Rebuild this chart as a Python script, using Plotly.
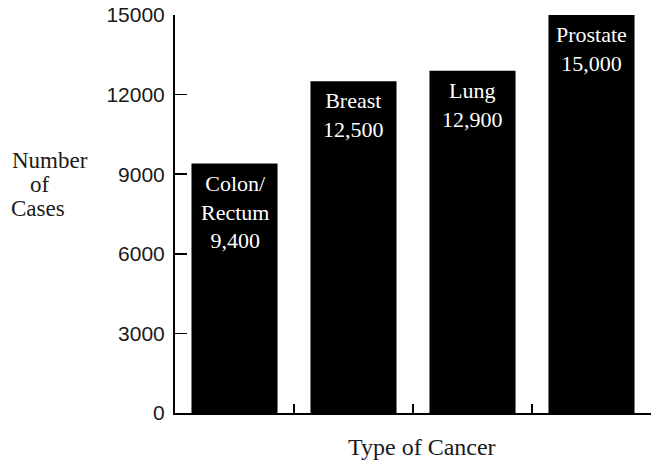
import plotly.graph_objects as go

categories = ["Colon/<br>Rectum", "Breast", "Lung", "Prostate"]
cases = [9400, 12500, 12900, 15000]
value_labels = ["9,400", "12,500", "12,900", "15,000"]
y_ticks = [0, 3000, 6000, 9000, 12000, 15000]
y_title_lines = ["Number", "of", "Cases"]
x_title = "Type of Cancer"

x_idx = list(range(len(categories)))
SERIF = "Liberation Serif, Times New Roman, serif"

fig_w, fig_h = 654, 464
L, R, T, B = 175, 3, 15, 51
pw, ph = fig_w - L - R, fig_h - T - B


def px_to_paper(px, py):
    return (px - L) / pw, (fig_h - B - py) / ph


fig = go.Figure()
fig.add_trace(go.Bar(
    x=x_idx, y=cases,
    marker=dict(color="black", line=dict(width=0)),
    hoverinfo="skip",
))

for i, (c, v, lab) in enumerate(zip(categories, cases, value_labels)):
    fig.add_annotation(
        x=i, y=v, xref="x", yref="y",
        text=c + "<br>" + lab,
        showarrow=False, yanchor="top", yshift=-5,
        font=dict(family=SERIF, size=22, color="white"),
        align="center",
    )

title_pos = [(50, 160), (40, 184), (38, 208)]
for line, (cx, cy) in zip(y_title_lines, title_pos):
    xp, yp = px_to_paper(cx, cy)
    fig.add_annotation(
        xref="paper", yref="paper", x=xp, y=yp,
        text=line, showarrow=False,
        xanchor="center", yanchor="middle",
        font=dict(family=SERIF, size=23, color="#1a1a1a"),
    )

xp, yp = px_to_paper(422, 447)
fig.add_annotation(
    xref="paper", yref="paper", x=xp, y=yp,
    text=x_title, showarrow=False,
    xanchor="center", yanchor="middle",
    font=dict(family=SERIF, size=24, color="#1a1a1a"),
)

fig.update_layout(
    width=fig_w, height=fig_h,
    margin=dict(l=L, r=R, t=T, b=B),
    plot_bgcolor="white", paper_bgcolor="white",
    bargap=0.277,
    showlegend=False,
    xaxis=dict(
        range=[-0.5, 3.5],
        tickmode="array",
        tickvals=[-0.5, 0.5, 1.5, 2.5, 3.5],
        showticklabels=False,
        ticks="inside", ticklen=9, tickwidth=1.5, tickcolor="black",
        showline=True, linecolor="black", linewidth=2,
        showgrid=False, zeroline=False,
    ),
    yaxis=dict(
        range=[0, 15000],
        tickmode="array", tickvals=y_ticks,
        ticktext=[str(t) for t in y_ticks],
        ticks="inside", ticklen=12, tickwidth=1.5, tickcolor="black",
        showline=True, linecolor="black", linewidth=2,
        showgrid=False, zeroline=False,
        tickfont=dict(family="Liberation Sans, Arial, sans-serif", size=21, color="#1a1a1a"),
        ticklabelstandoff=4,
    ),
)

fig.write_html(
    "out.html",
    config={"displayModeBar": False, "staticPlot": True},
    post_script="document.body.style.margin='0';document.body.style.overflow='hidden';",
)
